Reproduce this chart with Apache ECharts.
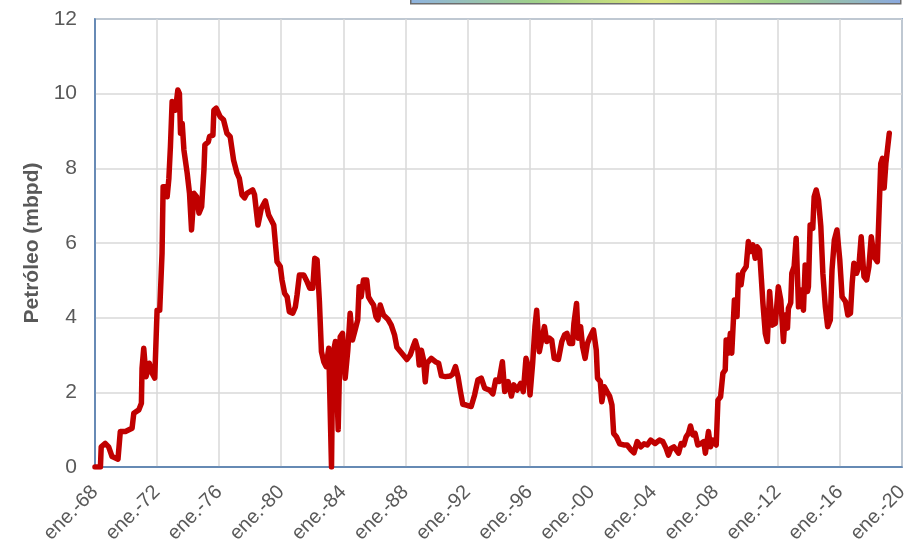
<!DOCTYPE html>
<html>
<head>
<meta charset="utf-8">
<title>Petróleo (mbpd)</title>
<script src="https://cdn.jsdelivr.net/npm/echarts@6/dist/echarts.min.js"></script>
<style>
  html, body { margin: 0; padding: 0; background: #ffffff; }
  #chart { width: 915px; height: 544px; }
</style>
</head>
<body>
<div id="chart"></div>
<script>
// Monthly-ish production readings, time in decimal years
const years = [
  1968.0, 1968.35, 1968.4, 1968.66, 1968.88, 1969.1, 1969.48, 1969.63, 1969.96, 1970.39,
  1970.5, 1970.82, 1970.99, 1971.03, 1971.14, 1971.29, 1971.5, 1971.68, 1971.85, 1972.0,
  1972.17, 1972.32, 1972.39, 1972.54, 1972.65, 1972.76, 1972.86, 1972.97, 1973.08, 1973.18,
  1973.34, 1973.44, 1973.51, 1973.62, 1973.73, 1973.94, 1974.09, 1974.22, 1974.38, 1974.55,
  1974.7, 1974.87, 1975.02, 1975.08, 1975.3, 1975.38, 1975.6, 1975.66, 1975.81, 1976.07,
  1976.28, 1976.5, 1976.71, 1976.93, 1977.15, 1977.3, 1977.47, 1977.64, 1977.79, 1978.16,
  1978.28, 1978.5, 1978.72, 1978.98, 1979.19, 1979.52, 1979.73, 1979.94, 1980.05, 1980.22,
  1980.38, 1980.52, 1980.74, 1980.91, 1981.02, 1981.17, 1981.45, 1981.67, 1981.84, 1982.03,
  1982.16, 1982.31, 1982.46, 1982.59, 1982.74, 1982.89, 1983.06, 1983.24, 1983.32, 1983.49,
  1983.67, 1983.8, 1983.95, 1984.12, 1984.29, 1984.44, 1984.59, 1984.76, 1984.93, 1985.02,
  1985.15, 1985.3, 1985.51, 1985.62, 1985.8, 1985.95, 1986.1, 1986.23, 1986.38, 1986.59,
  1986.87, 1987.09, 1987.3, 1987.45, 1987.77, 1988.1, 1988.31, 1988.46, 1988.64, 1988.8,
  1988.89, 1989.03, 1989.17, 1989.28, 1989.39, 1989.67, 1989.93, 1990.14, 1990.32, 1990.58,
  1990.9, 1991.05, 1991.23, 1991.39, 1991.55, 1991.7, 1991.92, 1992.24, 1992.46, 1992.67,
  1992.89, 1993.11, 1993.43, 1993.64, 1993.82, 1994.03, 1994.25, 1994.4, 1994.62, 1994.83,
  1994.99, 1995.2, 1995.42, 1995.6, 1995.77, 1995.92, 1996.03, 1996.2, 1996.35, 1996.46,
  1996.63, 1996.78, 1996.96, 1997.11, 1997.28, 1997.43, 1997.59, 1997.86, 1998.08, 1998.26,
  1998.41, 1998.58, 1998.77, 1998.86, 1999.03, 1999.14, 1999.29, 1999.42, 1999.58, 1999.73,
  1999.86, 2000.12, 2000.3, 2000.38, 2000.56, 2000.66, 2000.82, 2000.99, 2001.16, 2001.31,
  2001.42, 2001.6, 2001.81, 2002.07, 2002.29, 2002.51, 2002.73, 2002.94, 2003.16, 2003.38,
  2003.59, 2003.81, 2004.09, 2004.37, 2004.59, 2004.8, 2004.95, 2005.12, 2005.3, 2005.45,
  2005.6, 2005.77, 2005.94, 2006.09, 2006.24, 2006.37, 2006.52, 2006.67, 2006.84, 2007.06,
  2007.23, 2007.33, 2007.53, 2007.66, 2007.81, 2008.03, 2008.14, 2008.31, 2008.46, 2008.61,
  2008.67, 2008.82, 2008.94, 2009.03, 2009.2, 2009.37, 2009.46, 2009.63, 2009.74, 2009.96,
  2010.1, 2010.23, 2010.39, 2010.54, 2010.67, 2010.82, 2010.93, 2011.04, 2011.19, 2011.32,
  2011.47, 2011.63, 2011.84, 2012.03, 2012.19, 2012.36, 2012.47, 2012.62, 2012.68, 2012.83,
  2012.9, 2013.05, 2013.18, 2013.33, 2013.48, 2013.65, 2013.76, 2013.91, 2013.97, 2014.08,
  2014.25, 2014.34, 2014.47, 2014.62, 2014.77, 2014.9, 2015.06, 2015.21, 2015.38, 2015.49,
  2015.64, 2015.81, 2015.99, 2016.14, 2016.36, 2016.51, 2016.68, 2016.79, 2016.9, 2017.07,
  2017.22, 2017.37, 2017.55, 2017.72, 2017.87, 2018.02, 2018.2, 2018.41, 2018.52, 2018.63,
  2018.74, 2018.85, 2018.96, 2019.18
];

const petroleo = [
  0.0, 0.0, 0.54, 0.63, 0.54, 0.28, 0.21, 0.95, 0.95, 1.04,
  1.44, 1.53, 1.71, 2.64, 3.18, 2.42, 2.78, 2.51, 2.38, 4.2,
  4.2, 5.72, 7.51, 7.51, 7.24, 7.73, 8.58, 9.79, 9.83, 9.56,
  10.1, 10.0, 8.94, 9.2, 8.49, 7.87, 7.33, 6.35, 7.33, 7.24,
  6.8, 6.97, 7.96, 8.63, 8.71, 8.85, 8.89, 9.56, 9.61, 9.38,
  9.3, 8.94, 8.85, 8.22, 7.87, 7.73, 7.29, 7.21, 7.33, 7.42,
  7.29, 6.48, 6.93, 7.13, 6.75, 6.48, 5.5, 5.37, 5.01, 4.65,
  4.56, 4.16, 4.12, 4.29, 4.61, 5.14, 5.14, 4.96, 4.79, 4.79,
  5.59, 5.55, 4.43, 3.09, 2.82, 2.69, 3.18, 0.0, 3.0, 3.36,
  1.0, 3.49, 3.58, 2.38, 3.13, 4.12, 3.4, 3.67, 3.94, 4.83,
  4.56, 5.01, 5.01, 4.56, 4.43, 4.34, 4.03, 3.94, 4.34, 4.07,
  3.96, 3.8, 3.54, 3.21, 3.05, 2.88, 3.0, 3.18, 3.38, 3.15,
  2.73, 3.13, 2.87, 2.28, 2.78, 2.91, 2.82, 2.78, 2.44, 2.42,
  2.44, 2.49, 2.69, 2.42, 2.02, 1.68, 1.66, 1.62, 1.93, 2.33,
  2.38, 2.11, 2.06, 1.96, 2.33, 2.29, 2.82, 2.02, 2.29, 1.9,
  2.2, 2.06, 2.24, 2.02, 2.91, 2.69, 1.93, 2.78, 3.76, 4.2,
  3.09, 3.4, 3.76, 3.36, 3.45, 3.4, 2.91, 2.88, 3.36, 3.54,
  3.58, 3.31, 3.31, 3.85, 4.38, 3.45, 3.76, 3.22, 2.91, 3.31,
  3.45, 3.67, 3.13, 2.38, 2.29, 1.75, 2.15, 2.02, 1.9, 1.66,
  0.9, 0.81, 0.62, 0.59, 0.59, 0.47, 0.38, 0.68, 0.54, 0.62,
  0.59, 0.72, 0.63, 0.72, 0.68, 0.5, 0.32, 0.5, 0.54, 0.46,
  0.37, 0.63, 0.59, 0.81, 0.9, 1.1, 0.86, 0.9, 0.59, 0.63,
  0.68, 0.37, 0.95, 0.54, 0.72, 0.59, 1.79, 1.88, 2.51, 2.6,
  3.4, 3.05, 3.58, 3.05, 4.47, 4.03, 5.14, 4.88, 5.23, 5.37,
  6.04, 5.77, 5.95, 5.59, 5.9, 5.81, 5.86, 4.38, 3.58, 3.36,
  4.7, 3.8, 3.85, 4.83, 4.47, 3.36, 4.07, 3.72, 4.25, 4.4,
  5.19, 5.37, 6.13, 4.29, 4.74, 4.2, 5.41, 4.7, 4.83, 6.48,
  6.39, 7.24, 7.42, 7.15, 6.44, 5.19, 4.29, 3.76, 3.94, 5.28,
  6.08, 6.35, 5.55, 4.56, 4.43, 4.07, 4.12, 4.92, 5.46, 5.19,
  5.37, 6.17, 5.1, 5.01, 5.37, 6.17, 5.63, 5.5, 5.5, 8.13,
  8.27, 7.47, 8.13, 8.94
];

// Axis ranges and tick steps
const xStart = 1968, xEnd = 2020, xStep = 4;
const yTicks = [0, 2, 4, 6, 8, 10, 12];
const monthPrefix = 'ene.-';
const yTitle = 'Petróleo (mbpd)';

const seriesData = years.map((y, i) => [y, petroleo[i]]);

const chart = echarts.init(document.getElementById('chart'), null, { renderer: 'canvas' });

const axisBlue = '#4a76ab';
const gridGray = '#d9d9d9';
const labelGray = '#595959';
const font = '"Liberation Sans", Arial, sans-serif';

chart.setOption({
  backgroundColor: '#ffffff',
  animation: false,
  grid: {
    left: 95, right: 13, top: 19, bottom: 77,
    outerBoundsMode: 'none',
    containLabel: false,
    show: true,
    borderColor: axisBlue,
    borderWidth: 1.5,
    backgroundColor: 'transparent'
  },
  graphic: [{
    type: 'rect',
    left: 410, top: -8,
    shape: { width: 490, height: 11 },
    style: {
      fill: new echarts.graphic.LinearGradient(0, 0, 1, 0, [
        { offset: 0, color: '#8fb3e0' },
        { offset: 0.25, color: '#9fd08a' },
        { offset: 0.5, color: '#d7e37a' },
        { offset: 0.75, color: '#9fd08a' },
        { offset: 1, color: '#8aa8e0' }
      ]),
      stroke: '#6d6d6d',
      lineWidth: 1.5
    }
  }],
  xAxis: {
    type: 'value',
    min: xStart,
    max: xEnd,
    interval: xStep,
    axisLine: { show: true, lineStyle: { color: axisBlue, width: 1.5 } },
    axisTick: { show: false },
    splitLine: { show: true, lineStyle: { color: gridGray, width: 1.5 } },
    axisLabel: {
      rotate: 45,
      margin: 22,
      color: labelGray,
      fontSize: 20,
      fontFamily: font,
      formatter: v => monthPrefix + String(Math.round(v)).slice(2)
    }
  },
  yAxis: {
    type: 'value',
    min: yTicks[0],
    max: yTicks[yTicks.length - 1],
    interval: yTicks[1] - yTicks[0],
    name: yTitle,
    nameLocation: 'middle',
    nameGap: 52,
    nameTextStyle: {
      color: labelGray,
      fontSize: 21,
      fontWeight: 'bold',
      fontFamily: font
    },
    axisLine: { show: true, lineStyle: { color: axisBlue, width: 1.5 } },
    axisTick: { show: false },
    splitLine: { show: true, lineStyle: { color: gridGray, width: 1.5 } },
    axisLabel: {
      margin: 18,
      color: labelGray,
      fontSize: 21,
      fontFamily: font
    }
  },
  series: [{
    type: 'line',
    data: seriesData,
    showSymbol: false,
    symbol: 'none',
    smooth: false,
    lineStyle: { color: '#c00000', width: 5.5, join: 'round', cap: 'round' },
    z: 3
  }]
});
</script>
</body>
</html>
